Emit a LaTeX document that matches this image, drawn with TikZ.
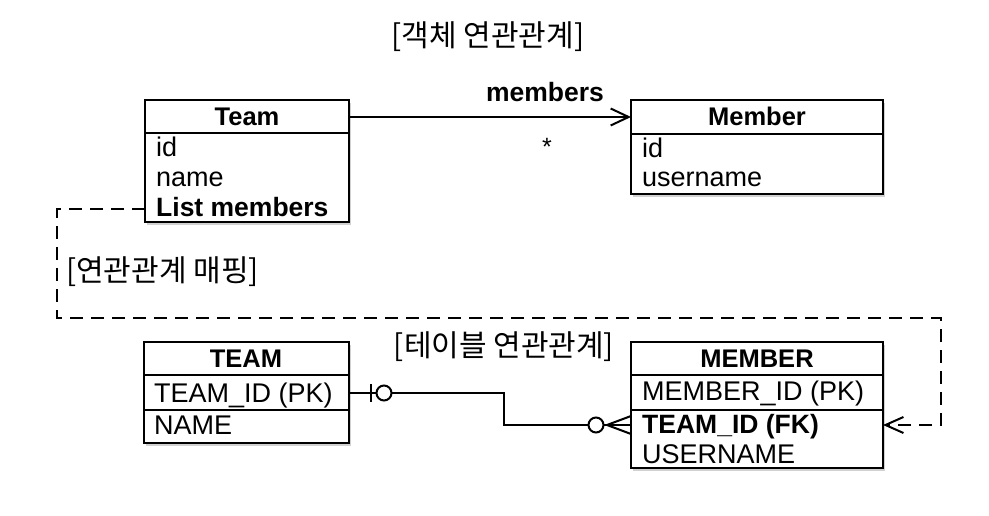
\documentclass[tikz,border=0pt]{standalone}
\usepackage{fontspec}
\setmainfont{Liberation Sans}
\newfontfamily\kr{Noto Sans CJK KR}
\usetikzlibrary{arrows.meta,shadows}
\begin{document}
\begin{tikzpicture}[x=1pt,y=-1pt,
  box/.style={draw,line width=2pt,fill=white,rectangle,inner sep=0pt,outer sep=0pt,anchor=north west,
    drop shadow={fill=black,opacity=0.18,shadow xshift=2pt,shadow yshift=-3pt}},
  divline/.style={line width=2pt},
  hdr/.style={font=\fontsize{25.5}{30}\selectfont\bfseries,anchor=base,inner sep=0pt},
  fld/.style={font=\fontsize{27}{32}\selectfont,anchor=base west,inner sep=0pt},
  fldb/.style={font=\fontsize{26.5}{32}\selectfont\bfseries,anchor=base west,inner sep=0pt},
  lbl/.style={font=\kr\fontsize{30}{36}\selectfont,inner sep=0pt},
  conn/.style={line width=2pt},
  barb/.style={-{Straight Barb[length=18pt,width=17pt,line width=2pt]}},
  dashline/.style={line width=2pt,dash pattern=on 13pt off 8pt}
]
\useasboundingbox (0,0) rectangle (989,516);

% ---------- object model ----------
\node[lbl] (t1) at (488,37) {[객체 연관관계]};

\node[box,minimum width=204pt,minimum height=122pt] (team) at (145,100) {};
\draw[divline] (145,133) -- (349,133);
\node[hdr] (teamh) at (247,126) {Team};
\node[fld] (tid) at (156,157) {id};
\node[fld] (tname) at (156,187) {name};
\node[fldb] (tlist) at (156,217) {List members};

\node[box,minimum width=252pt,minimum height=94pt] (member) at (631,100) {};
\draw[divline] (631,134) -- (883,134);
\node[hdr] (memh) at (757,126) {Member};
\node[fld] (mid) at (642,158) {id};
\node[fld] (muser) at (642,187) {username};

\draw[conn,barb] (team.east |- 0,117) -- (member.west |- 0,117);
\node[font=\fontsize{26.5}{30}\selectfont\bfseries,anchor=base,inner sep=0pt] (mlab) at (545,102) {members};
\node[font=\fontsize{25}{30}\selectfont,anchor=base,inner sep=0pt] (mult) at (547,156) {*};

% ---------- mapping ----------
\node[lbl,anchor=west] (t2) at (66,272) {[연관관계 매핑]};

% ---------- table model ----------
\node[lbl] (t3) at (504,347) {[테이블 연관관계]};

\node[box,minimum width=205pt,minimum height=101pt] (TEAM) at (144,342) {};
\draw[divline] (144,375) -- (349,375);
\draw[divline] (144,410) -- (349,410);
\node[hdr] (TEAMh) at (246,367) {TEAM};
\node[fld] (tpk) at (154,402) {TEAM\_ID (PK)};
\node[fld] (tnm) at (154,434) {NAME};

\node[box,minimum width=252pt,minimum height=126pt] (MEMBER) at (631,342) {};
\draw[divline] (631,375) -- (883,375);
\draw[divline] (631,410) -- (883,410);
\node[hdr] (MEMh) at (757,367) {MEMBER};
\node[fld] (mpk) at (642,400) {MEMBER\_ID (PK)};
\node[fldb] (mfk) at (642,433) {TEAM\_ID (FK)};
\node[fld] (mun) at (642,463) {USERNAME};

% ER connector
\coordinate (e1) at (504,393);
\coordinate (e2) at (504,425);
\draw[conn] (TEAM.east |- e1) -- (e1) -- (e2) -- (MEMBER.west |- e2);
\draw[conn] (371,384) -- (371,402);
\node[circle,draw,line width=2pt,fill=white,minimum size=15pt,inner sep=0pt] (c1) at (384,393) {};
\node[circle,draw,line width=2pt,fill=white,minimum size=15pt,inner sep=0pt] (c2) at (596,425) {};
\coordinate (crow) at (607,425);
\draw[conn] (crow) -- ([yshift=-9pt]MEMBER.west |- e2);
\draw[conn] (crow) -- ([yshift=9pt]MEMBER.west |- e2);

% dashed mapping connector
\coordinate (d1) at (57,209);
\coordinate (d2) at (57,318);
\coordinate (d3) at (941,318);
\coordinate (d4) at (941,425);
\draw[dashline,-{Straight Barb[length=18pt,width=16pt,line width=2pt]}]
  (team.west |- d1) -- (d1) -- (d2) -- (d3) -- (d4) -- (MEMBER.east |- d4);
\end{tikzpicture}
\end{document}
